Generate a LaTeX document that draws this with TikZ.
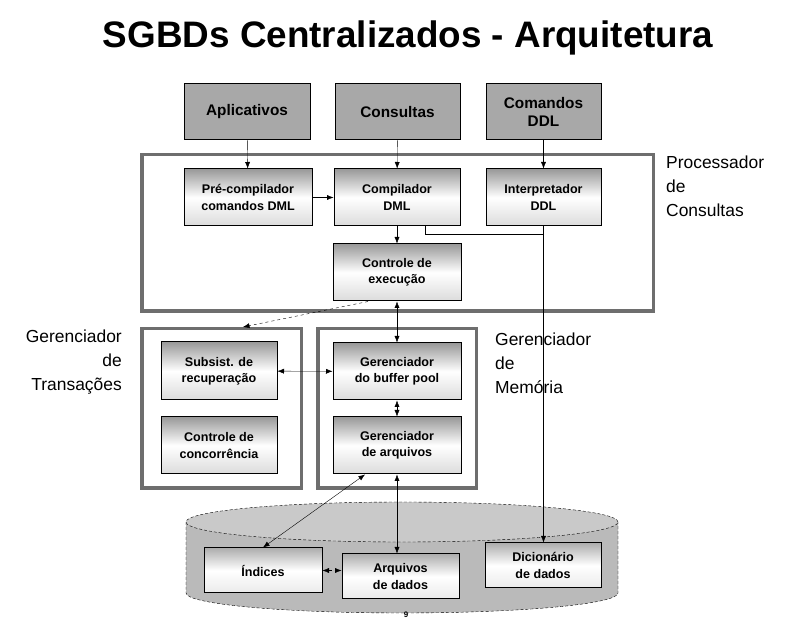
\documentclass[tikz,border=0pt]{standalone}
\usepackage{fontspec}
\setmainfont{Liberation Sans}
\usetikzlibrary{arrows.meta}

\begin{document}
\begin{tikzpicture}[>={Latex[length=6.5bp,width=5bp]},
  ext/.style={draw,line width=1bp,fill=black!34,font=\bfseries\fontsize{15.4}{18}\selectfont,align=center,inner sep=0pt,minimum height=56bp},
  mod/.style={draw,line width=1bp,top color=black!40,bottom color=black!14,middle color=white,font=\bfseries\fontsize{12.6}{16.5}\selectfont,align=center,inner sep=0pt,minimum height=57bp},
  disk/.style={draw,line width=1bp,top color=black!32,bottom color=black!8,middle color=white,font=\bfseries\fontsize{12.6}{16.5}\selectfont,align=center,inner sep=0pt,minimum height=45bp},
  frame/.style={draw=black!57,line width=3.5bp,inner sep=0pt},
  lbl/.style={font=\fontsize{17.5}{24}\selectfont,inner sep=0pt}]
  \useasboundingbox (0bp,0bp) rectangle (800bp,625bp);
  %%
  \node (Title) at (408bp,587bp) [font=\bfseries\fontsize{37}{42}\selectfont] {SGBDs Centralizados - Arquitetura};
  %% disco
  \fill [black!27] (186bp,103bp) -- (186bp,32bp) arc [start angle=180,end angle=360,x radius=216bp,y radius=20bp] -- (618bp,103bp) -- cycle;
  \draw [densely dashed] (186bp,103bp) -- (186bp,32bp) arc [start angle=180,end angle=360,x radius=216bp,y radius=20bp] -- (618bp,103bp);
  \draw [densely dashed,fill=black!21] (402bp,103bp) ellipse [x radius=216bp,y radius=20bp];
  \node (Nove) at (406bp,10bp) [font=\bfseries\fontsize{8}{9}\selectfont] {9};
  %% molduras
  \node (ProcFrame) at (397.5bp,392bp) [frame,minimum width=511.5bp,minimum height=156.5bp] {};
  \node (TransFrame) at (221.5bp,216.5bp) [frame,minimum width=159.5bp,minimum height=159.5bp] {};
  \node (MemFrame) at (397bp,216.5bp) [frame,minimum width=158.5bp,minimum height=159.5bp] {};
  %%
  \node (Aplicativos) at (247bp,513bp) [ext,minimum width=126bp] {Aplicativos};
  \node (Consultas) at (397.5bp,513bp) [ext,minimum width=125bp] {Consultas};
  \node (ComandosDDL) at (543.5bp,513bp) [ext,minimum width=115bp] {Comandos\\DDL};
  \node (PreComp) at (248bp,427.5bp) [mod,minimum width=128bp] {Pré-compilador\\comandos DML};
  \node (CompDML) at (397bp,427.5bp) [mod,minimum width=126bp] {Compilador\\DML};
  \node (InterpDDL) at (543.5bp,427.5bp) [mod,minimum width=115bp] {Interpretador\\DDL};
  \node (ContExec) at (397bp,352.5bp) [mod,minimum width=128bp] {Controle de\\execução};
  \node (Subsist) at (219bp,254bp) [mod,minimum width=116bp,minimum height=58bp] {Subsist. de\\recuperação};
  \node (ContConc) at (219bp,179.5bp) [mod,minimum width=116bp] {Controle de\\concorrência};
  \node (Buffer) at (397bp,253.5bp) [mod,minimum width=128bp] {Gerenciador\\do buffer pool};
  \node (GerArq) at (397bp,179.5bp) [mod,minimum width=128bp] {Gerenciador\\de arquivos};
  \node (Indices) at (263bp,54.5bp) [disk,minimum width=118bp] {Índices};
  \node (ArqDados) at (400.5bp,48.5bp) [disk,minimum width=117bp] {Arquivos\\de dados};
  \node (Dicionario) at (543bp,59.5bp) [disk,minimum width=116bp] {Dicionário\\de dados};
  %%
  \node (LblProc) at (666bp,439bp) [lbl,anchor=west,align=left] {Processador\\de\\Consultas};
  \node (LblTrans) at (122bp,263bp) [lbl,anchor=east,align=right] {Gerenciador\\de\\Transações};
  \node (LblMem) at (495bp,262bp) [lbl,anchor=west,align=left] {Gerenciador\\de\\Memória};
  \coordinate (Juncao) at (543.5bp,391bp);
  %%
  \draw [->] (Aplicativos) -- (PreComp);
  \draw [->] (Consultas) -- (CompDML);
  \draw [->] (ComandosDDL) -- (InterpDDL);
  \draw [->] (PreComp) -- (CompDML);
  \draw [->] (CompDML) -- (ContExec);
  \draw ([xshift=28bp]CompDML.south) |- (Juncao);
  \draw [->] (InterpDDL.south) -- (InterpDDL.south |- Dicionario.north);
  \draw [->,dashed] ([xshift=-29bp]ContExec.south) -- ([xshift=21.5bp]TransFrame.north);
  \draw [<->] (ContExec) -- (Buffer);
  \draw [<->] (Subsist) -- (Buffer);
  \draw [<->] (Buffer) -- (GerArq);
  \draw [<->] ([xshift=-32bp]GerArq.south) -- (Indices.north);
  \draw [<->] (GerArq.south) -- (GerArq.south |- ArqDados.north);
  \draw [<->,dashed] (Indices.east) -- (Indices.east -| ArqDados.west);
  %
\end{tikzpicture}
\end{document}
